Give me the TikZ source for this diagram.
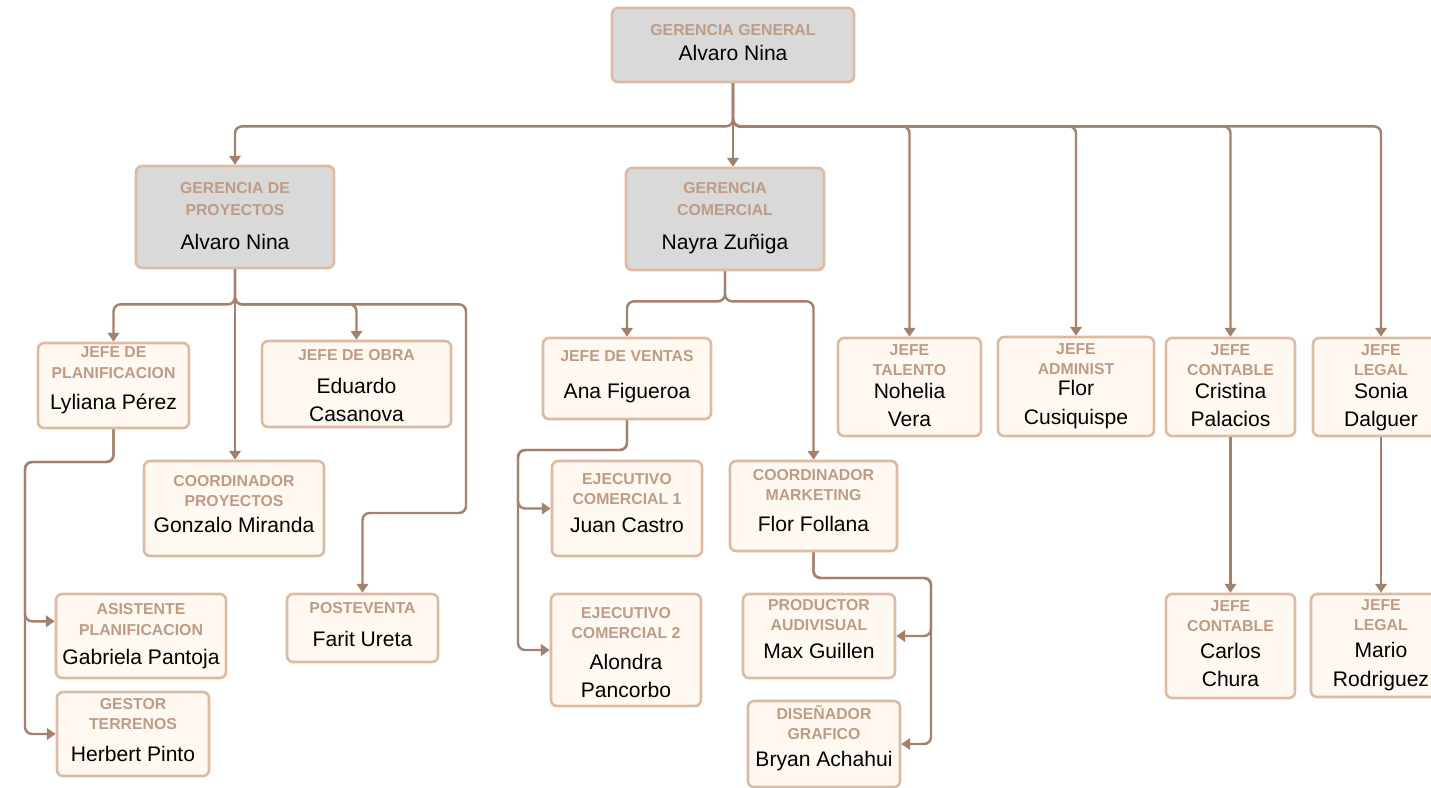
\documentclass[tikz,border=0pt]{standalone}
\usepackage{fontspec}
\setmainfont{Liberation Sans}
\usepackage{xcolor}
\usepackage{tikz}
\usetikzlibrary{arrows.meta,calc}
\definecolor{lineBrown}{HTML}{A5806B}
\definecolor{edgeTan}{HTML}{DDBBA3}
\definecolor{titleTan}{HTML}{BF9B85}
\definecolor{boxGray}{HTML}{D9D9D9}
\definecolor{boxCream}{HTML}{FFF9F2}
\newcommand{\nm}{\fontsize{12}{16}\selectfont\mdseries\color{black}}

\begin{document}
\begin{tikzpicture}[
  x=0.02cm, y=-0.02cm,
  box/.style={draw=edgeTan, line width=1.5pt, rounded corners=3.5pt, inner sep=0pt},
  txt/.style={align=center, text=titleTan, inner sep=0pt, yshift=#1,
    font=\fontsize{9}{16}\selectfont\bfseries},
  txt/.default=3.1pt,
  sz/.style 2 args={minimum width=#1*0.02cm, minimum height=#2*0.02cm},
  gerencia/.style={box, fill=boxGray},
  jefe/.style={box, fill=boxCream},
  arr/.style={draw=lineBrown, line width=1.4pt, rounded corners=4pt,
    -{Triangle[length=5pt,width=6.5pt]}}]
\useasboundingbox (0,0) rectangle (1431,788);
% gerencias
\node[gerencia, sz={242}{74}, label={[txt=1.4pt]center:{GERENCIA GENERAL\\[-1.5pt]\nm Alvaro Nina}}] (gg) at (733,45) {};
\node[gerencia, sz={198}{102}, label={[txt=0.5pt]center:{GERENCIA DE\\[-3.5pt]PROYECTOS\\[3pt]\nm Alvaro Nina}}] (gp) at (235,217) {};
\node[gerencia, sz={198}{102}, label={[txt=0.3pt]center:{GERENCIA\\[-3.5pt]COMERCIAL\\[3.5pt]\nm Nayra Zuñiga}}] (gc) at (725,219) {};
% proyectos
\node[jefe, sz={151}{85}, label={[txt=2.8pt]center:{JEFE DE\\[-4.5pt]PLANIFICACION\\[2pt]\nm Lyliana Pérez}}] (jp) at (113.5,385.5) {};
\node[jefe, sz={189}{86}, label={[txt=-0.9pt]center:{JEFE DE OBRA\\[2.5pt]\nm Eduardo\\\nm Casanova}}] (jo) at (356.5,384) {};
\node[jefe, sz={180}{95}, label={[txt=2.5pt]center:{COORDINADOR\\[-4.5pt]PROYECTOS\\[-1pt]\nm Gonzalo Miranda}}] (cp) at (234,508.5) {};
\node[jefe, sz={151}{68}, label={[txt=2pt]center:{POSTEVENTA\\[2.5pt]\nm Farit Ureta}}] (pv) at (362.5,628) {};
\node[jefe, sz={170}{84}, label={[txt=-0.3pt]center:{ASISTENTE\\[-4.5pt]PLANIFICACION\\[1pt]\nm Gabriela Pantoja}}] (ap) at (141,636) {};
\node[jefe, sz={152}{84}, label={[txt=2.2pt]center:{GESTOR\\[-4.5pt]TERRENOS\\[2pt]\nm Herbert Pinto}}] (gt) at (133,734) {};
% comercial
\node[jefe, sz={168}{81}, label={[txt=0.8pt]center:{JEFE DE VENTAS\\[5pt]\nm Ana Figueroa}}] (jv) at (627,378.5) {};
\node[jefe, sz={150}{95}, label={[txt]center:{EJECUTIVO\\[-4.5pt]COMERCIAL 1\\[0pt]\nm Juan Castro}}] (ec1) at (627,508.5) {};
\node[jefe, sz={150}{112}, label={[txt=-1.4pt]center:{EJECUTIVO\\[-4.5pt]COMERCIAL 2\\[1.3pt]\nm Alondra\\\nm Pancorbo}}] (ec2) at (626,650) {};
\node[jefe, sz={167}{90}, label={[txt]center:{COORDINADOR\\[-4.5pt]MARKETING\\[1.3pt]\nm Flor Follana}}] (cm) at (813.5,506) {};
\node[jefe, sz={152}{84}, label={[txt=4pt]center:{PRODUCTOR\\[-4.5pt]AUDIVISUAL\\[-0.5pt]\nm Max Guillen}}] (pa) at (819,636) {};
\node[jefe, sz={152}{86}, label={[txt=3.4pt]center:{DISEÑADOR\\[-4.5pt]GRAFICO\\[-1pt]\nm Bryan Achahui}}] (dg) at (824,744) {};
% jefaturas de apoyo
\node[jefe, sz={143}{98}, label={[txt=0.8pt]center:{JEFE\\[-4.5pt]TALENTO\\[-3.2pt]\nm Nohelia\\\nm Vera}}] (jt) at (909.5,387) {};
\node[jefe, sz={156}{99}, label={[txt=0.3pt]center:{JEFE\\[-4.5pt]ADMINIST\\[-3.8pt]\nm Flor\\\nm Cusiquispe}}] (ja) at (1076,386.5) {};
\node[jefe, sz={129}{98}, label={[txt=0.8pt]center:{JEFE\\[-4.5pt]CONTABLE\\[-3.2pt]\nm Cristina\\\nm Palacios}}] (jc) at (1230.5,387) {};
\node[jefe, sz={136}{98}, label={[txt=-0.3pt]center:{JEFE\\[-4.5pt]LEGAL\\[-3.2pt]\nm Sonia\\\nm Dalguer}}] (jl) at (1381,387) {};
\node[jefe, sz={129}{104}, label={[txt=1.4pt]center:{JEFE\\[-4.5pt]CONTABLE\\[-0.6pt]\nm Carlos\\\nm Chura}}] (jc2) at (1230.5,646) {};
\node[jefe, sz={140}{103}, label={[txt=0.3pt]center:{JEFE\\[-4.5pt]LEGAL\\[-0.5pt]\nm Mario\\\nm Rodriguez}}] (jl2) at (1381,645.5) {};
% codos
\coordinate (pvk) at (466,513);
\coordinate (jpk) at (25,462);
\coordinate (jvk) at (518,450);
\coordinate (cmk) at (931,578);
% conectores
\draw[arr] (gg.south) -- ++(0,43) -| (gp.north);
\draw[arr] (gg.south) -- (gg.south |- gc.north);
\foreach \t in {jt,ja,jc,jl}
  \draw[arr] (gg.south) -- ++(0,43) -| (\t.north);
\draw[arr] (gp.south) -- ++(0,35) -| (jp.north);
\draw[arr] (gp.south) -- (gp.south |- cp.north);
\draw[arr] (gp.south) -- ++(0,35) -| (jo.north);
\draw[arr] (gp.south) -- ++(0,35) -| (pvk) -| (pv.north);
\draw[arr] (jp.south) |- (jpk) |- ($(ap.north west)!0.33!(ap.south west)$);
\draw[arr] (jp.south) |- (jpk) |- (gt.west);
\draw[arr] (gc.south) -- ++(0,30) -| (jv.north);
\draw[arr] (gc.south) -- ++(0,30) -| (cm.north);
\draw[arr] (jv.south) |- (jvk) |- (ec1.west);
\draw[arr] (jv.south) |- (jvk) |- (ec2.west);
\draw[arr] (cm.south) |- (cmk) |- (pa.east);
\draw[arr] (cm.south) |- (cmk) |- (dg.east);
\draw[arr] (jc.south) -- (jc2.north);
\draw[arr] (jl.south) -- (jl2.north);
\end{tikzpicture}
\end{document}
